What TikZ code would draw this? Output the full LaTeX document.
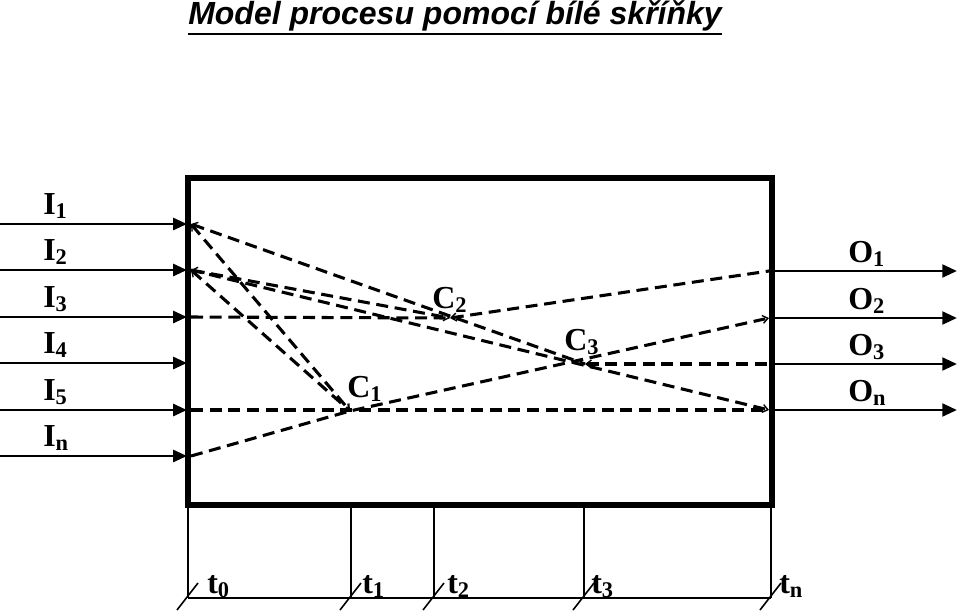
\documentclass[tikz,border=0pt]{standalone}
\usepackage{fontspec}
\setmainfont{Liberation Serif}
\newfontfamily\titlefont{Liberation Sans}
\usetikzlibrary{arrows.meta}
\tikzset{smallbarb/.tip={Straight Barb[length=4pt,width=6pt,line width=1pt]}}
\begin{document}
\begin{tikzpicture}[x=0.75pt,y=-0.75pt,
  box/.style={draw, line width=3.9pt},
  inarrow/.style={line width=2.2pt, -{Triangle[length=10.5pt,width=9pt]}},
  outarrow/.style={line width=2.2pt, -{Triangle[length=11pt,width=9.5pt]}},
  flow/.style={line width=2.3pt, dash pattern=on 9pt off 5pt},
  lbl/.style={font=\fontsize{24}{28}\selectfont\bfseries, inner sep=0pt, anchor=base west},
  timeline/.style={line width=1.2pt}
]
\useasboundingbox (0,0) rectangle (960,611);

% title
\node[inner sep=0pt, anchor=base, font=\titlefont\fontsize{24}{28}\selectfont\bfseries\itshape] (title) at (455,24) {Model procesu pomocí bílé skříňky};
\draw[line width=1.6pt] ([yshift=-2pt]title.south west) -- ([yshift=-2pt]title.south east);

% box
\draw[box] (188,178) rectangle (772,505);

% inputs
\foreach \y/\s [count=\i] in {224/1,270/2,317/3,363/4,410/5,456/n} {
  \coordinate (a\i) at (0,\y);
  \coordinate (b\i) at (187,\y);
  \coordinate (L\i) at (191,\y);
  \draw[inarrow] (a\i) -- (b\i);
  \node[lbl] (I\i) at (43,\y-10) {I\textsubscript{\s}};
}

% outputs
\foreach \y/\s [count=\i] in {271/1,318/2,364/3,410/n} {
  \coordinate (c\i) at (772,\y);
  \coordinate (d\i) at (957,\y);
  \coordinate (R\i) at (769,\y);
  \draw[outarrow] (c\i) -- (d\i);
  \node[lbl] (O\i) at (848,\y-9) {O\textsubscript{\s}};
}

% internal points
\coordinate (C1) at (350,411);
\coordinate (C2) at (450,318);
\coordinate (C3) at (585,364);
\node[lbl] (lc1) at (347,397) {C\textsubscript{1}};
\node[lbl] (lc2) at (432,308) {C\textsubscript{2}};
\node[lbl] (lc3) at (564,350) {C\textsubscript{3}};

% dashed flows
\draw[flow, smallbarb-smallbarb] (L1) -- (C1);
\draw[flow, smallbarb-smallbarb] (L2) -- (C1);
\draw[flow, smallbarb-] (L1) -- (C3);
\draw[flow, smallbarb-smallbarb] (L2) -- (C2);
\draw[flow] (L3) -- (C2);
\draw[flow, smallbarb-] (C2) -- (R1);
\draw[flow, -smallbarb] (L2) -- (R4);
\draw[flow, smallbarb-] (C3) -- (R3);
\draw[flow] (L5) -- (R4);
\draw[flow, -smallbarb] (L6) -- (C1) -- (R2);

% time axis
\foreach \x/\lx/\s [count=\i] in {188/207/0,351/362/1,434/447/2,584/591/3,771/779/n} {
  \coordinate (tt\i) at (\x,507);
  \coordinate (tb\i) at (\x,598);
  \coordinate (sl\i) at (\x-11,610);
  \coordinate (su\i) at (\x+10,583);
  \draw[timeline] (tt\i) -- (tb\i);
  \draw[timeline] (sl\i) -- (su\i);
  \node[lbl] (t\i) at (\lx,593) {t\textsubscript{\s}};
}
\draw[timeline] (tb1) -- (tb5);
\end{tikzpicture}
\end{document}
